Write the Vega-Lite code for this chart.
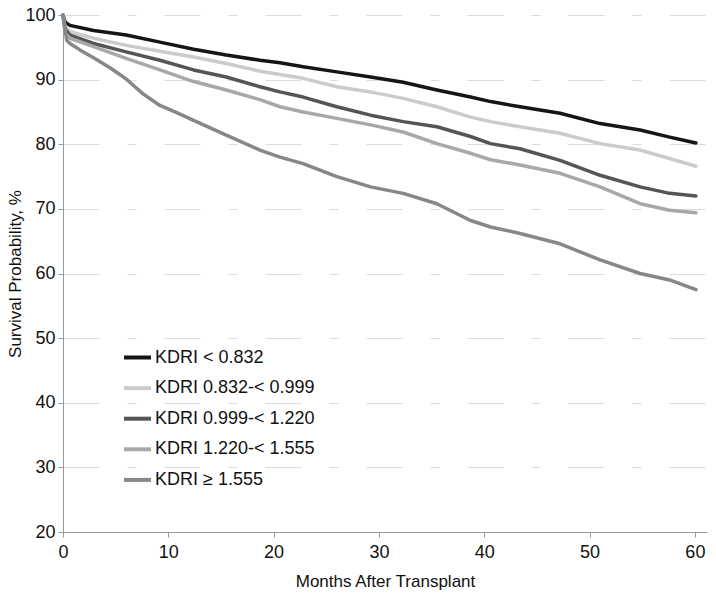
{
  "$schema": "https://vega.github.io/schema/vega-lite/v6.json",
  "autosize": {"type": "none"},
  "width": 644,
  "height": 517,
  "padding": {"left": 63, "top": 15, "right": 9, "bottom": 65},
  "background": "white",
  "config": {
    "view": {"stroke": null},
    "font": "Liberation Sans",
    "axis": {"labelFont": "Liberation Sans", "titleFont": "Liberation Sans", "labelColor": "#111", "titleColor": "#111", "titleFontWeight": "normal"}
  },
  "datasets": {
    "km": [
      {"m": 0, "s": 100, "g": "KDRI < 0.832"},
      {"m": 0.2, "s": 98.9, "g": "KDRI < 0.832"},
      {"m": 0.66, "s": 98.4, "g": "KDRI < 0.832"},
      {"m": 2.9, "s": 97.6, "g": "KDRI < 0.832"},
      {"m": 6.0, "s": 96.9, "g": "KDRI < 0.832"},
      {"m": 9.2, "s": 95.8, "g": "KDRI < 0.832"},
      {"m": 12.4, "s": 94.7, "g": "KDRI < 0.832"},
      {"m": 15.5, "s": 93.8, "g": "KDRI < 0.832"},
      {"m": 18.7, "s": 93.0, "g": "KDRI < 0.832"},
      {"m": 20.6, "s": 92.6, "g": "KDRI < 0.832"},
      {"m": 22.8, "s": 92.0, "g": "KDRI < 0.832"},
      {"m": 26.0, "s": 91.2, "g": "KDRI < 0.832"},
      {"m": 29.2, "s": 90.4, "g": "KDRI < 0.832"},
      {"m": 32.3, "s": 89.6, "g": "KDRI < 0.832"},
      {"m": 35.5, "s": 88.4, "g": "KDRI < 0.832"},
      {"m": 38.7, "s": 87.3, "g": "KDRI < 0.832"},
      {"m": 40.6, "s": 86.6, "g": "KDRI < 0.832"},
      {"m": 43.4, "s": 85.8, "g": "KDRI < 0.832"},
      {"m": 47.2, "s": 84.8, "g": "KDRI < 0.832"},
      {"m": 51.0, "s": 83.2, "g": "KDRI < 0.832"},
      {"m": 54.8, "s": 82.2, "g": "KDRI < 0.832"},
      {"m": 57.6, "s": 81.1, "g": "KDRI < 0.832"},
      {"m": 60.1, "s": 80.2, "g": "KDRI < 0.832"},

      {"m": 0, "s": 100, "g": "KDRI 0.832-< 0.999"},
      {"m": 0.2, "s": 98.2, "g": "KDRI 0.832-< 0.999"},
      {"m": 0.66, "s": 97.4, "g": "KDRI 0.832-< 0.999"},
      {"m": 2.9, "s": 96.4, "g": "KDRI 0.832-< 0.999"},
      {"m": 6.0, "s": 95.3, "g": "KDRI 0.832-< 0.999"},
      {"m": 9.2, "s": 94.4, "g": "KDRI 0.832-< 0.999"},
      {"m": 12.4, "s": 93.5, "g": "KDRI 0.832-< 0.999"},
      {"m": 15.5, "s": 92.5, "g": "KDRI 0.832-< 0.999"},
      {"m": 18.7, "s": 91.3, "g": "KDRI 0.832-< 0.999"},
      {"m": 20.6, "s": 90.8, "g": "KDRI 0.832-< 0.999"},
      {"m": 22.8, "s": 90.2, "g": "KDRI 0.832-< 0.999"},
      {"m": 26.0, "s": 88.9, "g": "KDRI 0.832-< 0.999"},
      {"m": 29.2, "s": 88.1, "g": "KDRI 0.832-< 0.999"},
      {"m": 32.3, "s": 87.1, "g": "KDRI 0.832-< 0.999"},
      {"m": 35.5, "s": 85.8, "g": "KDRI 0.832-< 0.999"},
      {"m": 38.7, "s": 84.2, "g": "KDRI 0.832-< 0.999"},
      {"m": 40.6, "s": 83.5, "g": "KDRI 0.832-< 0.999"},
      {"m": 43.4, "s": 82.7, "g": "KDRI 0.832-< 0.999"},
      {"m": 47.2, "s": 81.7, "g": "KDRI 0.832-< 0.999"},
      {"m": 51.0, "s": 80.1, "g": "KDRI 0.832-< 0.999"},
      {"m": 54.8, "s": 79.1, "g": "KDRI 0.832-< 0.999"},
      {"m": 57.6, "s": 77.8, "g": "KDRI 0.832-< 0.999"},
      {"m": 60.1, "s": 76.6, "g": "KDRI 0.832-< 0.999"},

      {"m": 0, "s": 100, "g": "KDRI 0.999-< 1.220"},
      {"m": 0.2, "s": 97.8, "g": "KDRI 0.999-< 1.220"},
      {"m": 0.66, "s": 96.9, "g": "KDRI 0.999-< 1.220"},
      {"m": 2.9, "s": 95.6, "g": "KDRI 0.999-< 1.220"},
      {"m": 6.0, "s": 94.3, "g": "KDRI 0.999-< 1.220"},
      {"m": 9.2, "s": 93.0, "g": "KDRI 0.999-< 1.220"},
      {"m": 12.4, "s": 91.5, "g": "KDRI 0.999-< 1.220"},
      {"m": 15.5, "s": 90.4, "g": "KDRI 0.999-< 1.220"},
      {"m": 18.7, "s": 88.9, "g": "KDRI 0.999-< 1.220"},
      {"m": 20.6, "s": 88.1, "g": "KDRI 0.999-< 1.220"},
      {"m": 22.8, "s": 87.3, "g": "KDRI 0.999-< 1.220"},
      {"m": 26.0, "s": 85.8, "g": "KDRI 0.999-< 1.220"},
      {"m": 29.2, "s": 84.5, "g": "KDRI 0.999-< 1.220"},
      {"m": 32.3, "s": 83.5, "g": "KDRI 0.999-< 1.220"},
      {"m": 35.5, "s": 82.7, "g": "KDRI 0.999-< 1.220"},
      {"m": 38.7, "s": 81.2, "g": "KDRI 0.999-< 1.220"},
      {"m": 40.6, "s": 80.1, "g": "KDRI 0.999-< 1.220"},
      {"m": 43.4, "s": 79.3, "g": "KDRI 0.999-< 1.220"},
      {"m": 47.2, "s": 77.5, "g": "KDRI 0.999-< 1.220"},
      {"m": 51.0, "s": 75.2, "g": "KDRI 0.999-< 1.220"},
      {"m": 54.8, "s": 73.4, "g": "KDRI 0.999-< 1.220"},
      {"m": 57.6, "s": 72.4, "g": "KDRI 0.999-< 1.220"},
      {"m": 60.1, "s": 72.0, "g": "KDRI 0.999-< 1.220"},

      {"m": 0, "s": 100, "g": "KDRI 1.220-< 1.555"},
      {"m": 0.2, "s": 97.2, "g": "KDRI 1.220-< 1.555"},
      {"m": 0.66, "s": 96.4, "g": "KDRI 1.220-< 1.555"},
      {"m": 2.9, "s": 95.1, "g": "KDRI 1.220-< 1.555"},
      {"m": 6.0, "s": 93.3, "g": "KDRI 1.220-< 1.555"},
      {"m": 9.2, "s": 91.5, "g": "KDRI 1.220-< 1.555"},
      {"m": 12.4, "s": 89.7, "g": "KDRI 1.220-< 1.555"},
      {"m": 15.5, "s": 88.4, "g": "KDRI 1.220-< 1.555"},
      {"m": 18.7, "s": 86.9, "g": "KDRI 1.220-< 1.555"},
      {"m": 20.6, "s": 85.8, "g": "KDRI 1.220-< 1.555"},
      {"m": 22.8, "s": 85.0, "g": "KDRI 1.220-< 1.555"},
      {"m": 26.0, "s": 84.0, "g": "KDRI 1.220-< 1.555"},
      {"m": 29.2, "s": 83.0, "g": "KDRI 1.220-< 1.555"},
      {"m": 32.3, "s": 81.9, "g": "KDRI 1.220-< 1.555"},
      {"m": 35.5, "s": 80.1, "g": "KDRI 1.220-< 1.555"},
      {"m": 38.7, "s": 78.6, "g": "KDRI 1.220-< 1.555"},
      {"m": 40.6, "s": 77.6, "g": "KDRI 1.220-< 1.555"},
      {"m": 43.4, "s": 76.8, "g": "KDRI 1.220-< 1.555"},
      {"m": 47.2, "s": 75.5, "g": "KDRI 1.220-< 1.555"},
      {"m": 51.0, "s": 73.4, "g": "KDRI 1.220-< 1.555"},
      {"m": 54.8, "s": 70.8, "g": "KDRI 1.220-< 1.555"},
      {"m": 57.6, "s": 69.8, "g": "KDRI 1.220-< 1.555"},
      {"m": 60.1, "s": 69.4, "g": "KDRI 1.220-< 1.555"},

      {"m": 0, "s": 100, "g": "KDRI ≥ 1.555"},
      {"m": 0.35, "s": 96.1, "g": "KDRI ≥ 1.555"},
      {"m": 0.66, "s": 95.6, "g": "KDRI ≥ 1.555"},
      {"m": 1.6, "s": 94.6, "g": "KDRI ≥ 1.555"},
      {"m": 2.9, "s": 93.4, "g": "KDRI ≥ 1.555"},
      {"m": 4.5, "s": 91.8, "g": "KDRI ≥ 1.555"},
      {"m": 6.0, "s": 90.1, "g": "KDRI ≥ 1.555"},
      {"m": 7.6, "s": 87.8, "g": "KDRI ≥ 1.555"},
      {"m": 9.2, "s": 86.0, "g": "KDRI ≥ 1.555"},
      {"m": 10.8, "s": 84.9, "g": "KDRI ≥ 1.555"},
      {"m": 12.4, "s": 83.7, "g": "KDRI ≥ 1.555"},
      {"m": 15.5, "s": 81.4, "g": "KDRI ≥ 1.555"},
      {"m": 18.7, "s": 79.1, "g": "KDRI ≥ 1.555"},
      {"m": 20.6, "s": 78.0, "g": "KDRI ≥ 1.555"},
      {"m": 22.8, "s": 77.0, "g": "KDRI ≥ 1.555"},
      {"m": 26.0, "s": 75.0, "g": "KDRI ≥ 1.555"},
      {"m": 29.2, "s": 73.4, "g": "KDRI ≥ 1.555"},
      {"m": 32.3, "s": 72.4, "g": "KDRI ≥ 1.555"},
      {"m": 35.5, "s": 70.8, "g": "KDRI ≥ 1.555"},
      {"m": 38.7, "s": 68.2, "g": "KDRI ≥ 1.555"},
      {"m": 40.6, "s": 67.2, "g": "KDRI ≥ 1.555"},
      {"m": 43.4, "s": 66.2, "g": "KDRI ≥ 1.555"},
      {"m": 47.2, "s": 64.6, "g": "KDRI ≥ 1.555"},
      {"m": 51.0, "s": 62.1, "g": "KDRI ≥ 1.555"},
      {"m": 54.8, "s": 60.0, "g": "KDRI ≥ 1.555"},
      {"m": 57.6, "s": 59.0, "g": "KDRI ≥ 1.555"},
      {"m": 60.1, "s": 57.5, "g": "KDRI ≥ 1.555"}
    ]
  },
  "data": {"name": "km"},
  "mark": {"type": "line", "strokeWidth": 3.5, "strokeCap": "round", "strokeJoin": "round"},
  "encoding": {
    "x": {
      "field": "m", "type": "quantitative",
      "scale": {"domain": [0, 61.15], "nice": false, "zero": false},
      "axis": {
        "title": "Months After Transplant", "titleFontSize": 17, "titlePadding": 12,
        "values": [0, 10, 20, 30, 40, 50, 60], "labelFontSize": 18, "labelPadding": 6,
        "tickSize": 5, "tickColor": "#999", "domainColor": "#999", "grid": false,
        "labelFlush": false, "labelOverlap": false
      }
    },
    "y": {
      "field": "s", "type": "quantitative",
      "scale": {"domain": [20, 100], "nice": false, "zero": false},
      "axis": {
        "title": "Survival Probability, %", "titleFontSize": 17, "titlePadding": 0,
        "values": [20, 30, 40, 50, 60, 70, 80, 90, 100], "labelFontSize": 18, "labelPadding": 3,
        "tickSize": 5, "tickColor": "#999", "domainColor": "#999",
        "grid": true, "gridColor": "#dcdcdc", "gridDash": [36, 28, 9, 28], "gridWidth": 1,
        "labelFlush": false, "labelOverlap": false
      }
    },
    "color": {
      "field": "g", "type": "nominal",
      "scale": {
        "domain": ["KDRI < 0.832", "KDRI 0.832-< 0.999", "KDRI 0.999-< 1.220", "KDRI 1.220-< 1.555", "KDRI ≥ 1.555"],
        "range": ["#151515", "#cbcbcb", "#555555", "#a8a8a8", "#878787"]
      },
      "legend": {
        "title": null, "orient": "none", "legendX": 59, "legendY": 327,
        "symbolType": "stroke", "symbolSize": 729, "symbolStrokeWidth": 4,
        "labelFontSize": 18, "labelFont": "Liberation Sans", "labelColor": "#111",
        "labelOffset": 2, "rowPadding": 5.6, "padding": 0
      }
    }
  }
}
